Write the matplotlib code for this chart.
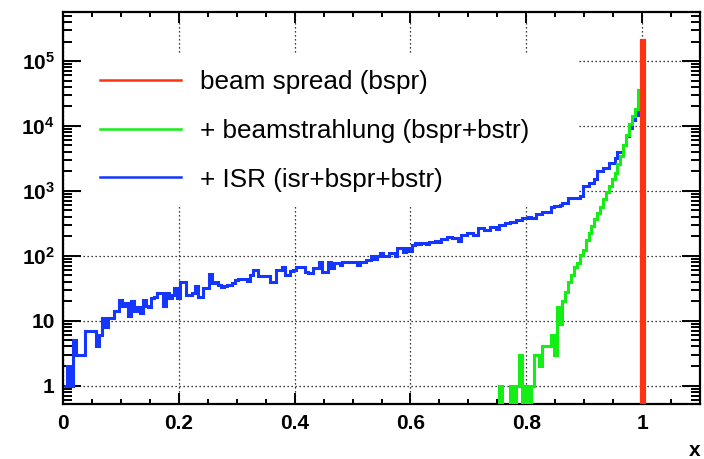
import numpy as np
import matplotlib
matplotlib.use("Agg")
import matplotlib.pyplot as plt
from matplotlib.ticker import FixedLocator, FixedFormatter, MultipleLocator, NullFormatter, LogLocator
from matplotlib.patches import Rectangle

plt.rcParams["font.family"] = ["Liberation Sans", "DejaVu Sans"]
plt.rcParams["mathtext.fontset"] = "custom"
plt.rcParams["mathtext.rm"] = "Liberation Sans:bold"
plt.rcParams["mathtext.bf"] = "Liberation Sans:bold"
plt.rcParams["mathtext.default"] = "rm"

# ---- data: event counts per bin of x (bin width 0.005) ----
bin_width = 0.005

# ISR + beam spread + beamstrahlung, bins centred at 0.005 ... 0.995
isr_first_center = 0.005
isr_counts = [
    1, 2, 1, 5, 3, 3, 3, 7, 7, 7,
    7, 4, 6, 11, 8, 11, 11, 14, 14, 21,
    17, 19, 12, 20, 14, 16, 13, 21, 17, 16,
    22, 23, 27, 27, 17, 27, 22, 25, 32, 22,
    40, 39, 25, 25, 27, 34, 23, 23, 32, 32,
    52, 38, 40, 36, 33, 34, 35, 36, 38, 42,
    44, 44, 44, 41, 51, 60, 60, 48, 48, 48,
    48, 40, 40, 60, 60, 66, 51, 51, 58, 60,
    68, 68, 68, 57, 54, 54, 65, 65, 81, 57,
    57, 81, 65, 78, 78, 72, 81, 81, 81, 81,
    81, 72, 79, 79, 86, 86, 100, 88, 98, 110,
    98, 98, 110, 110, 100, 130, 130, 116, 130, 118,
    147, 156, 150, 156, 158, 154, 165, 162, 168, 165,
    180, 180, 193, 193, 185, 185, 170, 210, 210, 228,
    228, 210, 210, 265, 265, 250, 250, 282, 282, 260,
    300, 300, 318, 318, 335, 335, 358, 358, 380, 380,
    390, 385, 380, 440, 440, 480, 480, 480, 560, 590,
    590, 600, 640, 650, 770, 770, 770, 770, 830, 1170,
    1170, 1310, 1310, 1520, 1990, 1990, 2240, 2240, 2690, 2690,
    3200, 4000, 4000, 5100, 6900, 9300, 12400, 14500, 17700,
]

# beam spread + beamstrahlung, bins centred at 0.750 ... 0.995
bstr_first_center = 0.750
bstr_counts = [
    0, 1, 0, 0, 0, 1, 0, 1, 3, 0,
    1, 0, 1, 3, 3, 2, 4, 4, 4, 6,
    3, 16, 9, 20, 28, 40, 51, 68, 77, 103,
    123, 176, 222, 290, 370, 450, 560, 740, 950, 1200,
    1500, 1900, 2600, 3500, 5000, 7300, 10900, 14000, 18000, 36000,
]

# beam spread only: everything in the bin at x = 1
bspr_first_center = 1.0
bspr_counts = [2.1e5]

labels = ["beam spread (bspr)", "+ beamstrahlung (bspr+bstr)", "+ ISR (isr+bspr+bstr)"]
colors = {"bspr": "#ff3312", "bstr": "#14ee14", "isr": "#1436ff"}

x_ticks = [0, 0.2, 0.4, 0.6, 0.8, 1.0]
x_ticklabels = ["0", "0.2", "0.4", "0.6", "0.8", "1"]
y_ticks = [1, 10, 1e2, 1e3, 1e4, 1e5]
y_ticklabels = ["1", "10", r"$10^{2}$", r"$10^{3}$", r"$10^{4}$", r"$10^{5}$"]


def edges_for(first_center, n):
    start = first_center - bin_width / 2
    return start + bin_width * np.arange(n + 1)


fig = plt.figure(figsize=(7.04, 4.59), dpi=100)
ax = fig.add_axes([63 / 704, 1 - 404 / 459, 637 / 704, 392 / 459])
ax.set_yscale("log")
ax.set_xlim(0, 1.1)
ax.set_ylim(0.52, 5.7e5)

lw = 2.2
ax.stairs(isr_counts, edges_for(isr_first_center, len(isr_counts)),
          baseline=None, color=colors["isr"], lw=lw, zorder=3)
ax.stairs(bstr_counts, edges_for(bstr_first_center, len(bstr_counts)),
          baseline=None, color=colors["bstr"], lw=lw, zorder=4)
ax.stairs(bspr_counts, edges_for(bspr_first_center, len(bspr_counts)),
          baseline=0, color=colors["bspr"], lw=2.3, zorder=5)

# grid
ax.grid(True, which="major", color="black", linestyle=(0, (1, 2.2)), lw=0.9)
ax.set_axisbelow(True)

# ticks
ax.xaxis.set_major_locator(FixedLocator(x_ticks))
ax.xaxis.set_major_formatter(FixedFormatter(x_ticklabels))
ax.xaxis.set_minor_locator(MultipleLocator(0.05))
ax.yaxis.set_major_locator(FixedLocator(y_ticks))
ax.yaxis.set_major_formatter(FixedFormatter(y_ticklabels))
ax.yaxis.set_minor_locator(LogLocator(base=10, subs=np.arange(2, 10), numticks=20))
ax.yaxis.set_minor_formatter(NullFormatter())

ax.tick_params(axis="both", which="both", direction="in", top=True, right=True, width=1.4)
ax.tick_params(axis="x", which="major", length=7.6, pad=7)
ax.tick_params(axis="x", which="minor", length=3.6)
ax.tick_params(axis="y", which="major", length=13, pad=6)
ax.tick_params(axis="y", which="minor", length=6.5)
for lab in ax.get_xticklabels() + ax.get_yticklabels():
    lab.set_fontsize(15)
    lab.set_fontweight("bold")
for sp in ax.spines.values():
    sp.set_linewidth(1.6)

ax.set_xlabel("x", loc="right", fontsize=15, fontweight="bold", labelpad=6)

# white legend area hiding the grid
ax.add_patch(Rectangle((0.0295, 0.508), 0.7795, 0.382, transform=ax.transAxes,
                       facecolor="white", edgecolor="none", zorder=1.8))

handles = [plt.Line2D([], [], color=colors["bspr"], lw=1.8),
           plt.Line2D([], [], color=colors["bstr"], lw=1.8),
           plt.Line2D([], [], color=colors["isr"], lw=1.8)]
ax.legend(handles, labels, loc="upper left", bbox_to_anchor=(0.058, 0.852),
          frameon=False, fontsize=18.8, handlelength=3.1, handletextpad=0.72,
          labelspacing=0.95, borderpad=0, borderaxespad=0)

fig.savefig("out.png", dpi=100)
